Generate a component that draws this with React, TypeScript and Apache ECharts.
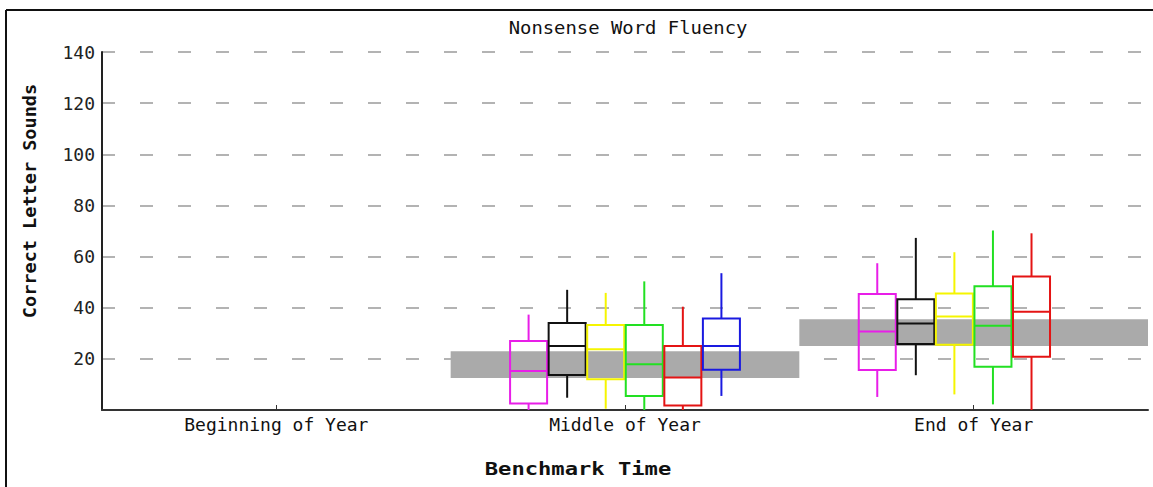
import React, { useEffect, useRef } from 'react';
import * as echarts from 'echarts';

const categories = ['Beginning of Year', 'Middle of Year', 'End of Year'];
const yTicks = { min: 0, max: 140, interval: 20 };

// [min, q1, median, q3, max] per category (null = no data)
const magentaBox = [null, [0, 2.5, 15.3, 27, 37.3], [5.1, 15.6, 30.7, 45.4, 57.4]];
const blackBox = [null, [4.8, 13.7, 25, 34, 47], [13.6, 25.8, 33.8, 43.3, 67.3]];
const yellowBox = [null, [0.5, 12, 23.8, 33.2, 45.8], [6.1, 25.5, 36.6, 45.6, 61.7]];
const greenBox = [null, [0, 5.5, 17.9, 33.2, 50.3], [2.2, 16.9, 32.9, 48.4, 70.2]];
const redBox = [null, [0, 1.8, 12.7, 25, 40.4], [0, 20.8, 38.4, 52.2, 69.1]];
const blueBox = [null, [5.5, 15.7, 25, 35.8, 53.5], null];

const benchmarkLow = [null, 12.5, 25];
const benchmarkHigh = [null, 23, 35.5];

const boxSeries = [
  { data: magentaBox, color: '#e81ee8' },
  { data: blackBox, color: '#111111' },
  { data: yellowBox, color: '#f5f500' },
  { data: greenBox, color: '#22e022' },
  { data: redBox, color: '#e41414' },
  { data: blueBox, color: '#1a1ae0' },
];

const MONO = '"DejaVu Sans Mono", "Liberation Mono", monospace';
const SLOT_RATIO = 0.1106;

export default function App() {
  const ref = useRef<HTMLDivElement>(null);
  useEffect(() => {
    if (!ref.current) return;
    const chart = echarts.init(ref.current, null, { renderer: 'svg' });
    const n = boxSeries.length;

    const bandData = categories
      .map((_, i) => (benchmarkLow[i] != null ? [i, benchmarkLow[i], benchmarkHigh[i]] : null))
      .filter(Boolean);

    const series: any[] = [
      {
        type: 'custom',
        name: 'benchmark',
        z: 1,
        silent: true,
        encode: { x: 0, y: [1, 2] },
        data: bandData,
        renderItem: (params: any, api: any) => {
          const cat = api.value(0);
          const lo = api.coord([cat, api.value(1)]);
          const hi = api.coord([cat, api.value(2)]);
          const bw = api.size([1, 0])[0];
          return {
            type: 'rect',
            shape: { x: lo[0] - bw / 2, y: hi[1], width: bw, height: lo[1] - hi[1] },
            style: { fill: '#aaaaaa' },
          };
        },
      },
    ];

    boxSeries.forEach((bs, si) => {
      const data = bs.data
        .map((v, i) => (v ? [i, ...v] : null))
        .filter(Boolean);
      series.push({
        type: 'custom',
        z: 2 + si,
        silent: true,
        encode: { x: 0, y: [1, 2, 3, 4, 5] },
        data,
        renderItem: (params: any, api: any) => {
          const cat = api.value(0);
          const bw = api.size([1, 0])[0];
          const slot = bw * SLOT_RATIO;
          const cx = api.coord([cat, 0])[0] + (si - (n - 1) / 2) * slot;
          const w = slot * 0.96;
          const y = (k: number) => api.coord([cat, api.value(k)])[1];
          const yMin = y(1), yQ1 = y(2), yMed = y(3), yQ3 = y(4), yMax = y(5);
          const st = { stroke: bs.color, lineWidth: 2, fill: null };
          return {
            type: 'group',
            children: [
              { type: 'line', shape: { x1: cx, y1: yMax, x2: cx, y2: yQ3 }, style: st },
              { type: 'line', shape: { x1: cx, y1: yQ1, x2: cx, y2: yMin }, style: st },
              {
                type: 'rect',
                shape: { x: cx - w / 2, y: yQ3, width: w, height: yQ1 - yQ3 },
                style: { stroke: bs.color, lineWidth: 2, fill: 'rgba(0,0,0,0)' },
              },
              { type: 'line', shape: { x1: cx - w / 2, y1: yMed, x2: cx + w / 2, y2: yMed }, style: st },
            ],
          };
        },
      });
    });

    chart.setOption({
      animation: false,
      backgroundColor: '#ffffff',
      grid: { left: 102, right: 5, top: 52, bottom: 77, containLabel: false },
      xAxis: {
        type: 'category',
        data: categories,
        boundaryGap: true,
        axisLine: { show: true, lineStyle: { color: '#333', width: 2 } },
        axisTick: { show: true, inside: true, length: 5, alignWithLabel: true, lineStyle: { color: '#333', width: 1 } },
        axisLabel: { color: '#111', fontFamily: MONO, fontSize: 18, margin: 5 },
        splitLine: { show: false },
      },
      yAxis: {
        type: 'value',
        min: yTicks.min,
        max: yTicks.max,
        interval: yTicks.interval,
        axisLine: { show: true, lineStyle: { color: '#222', width: 2 } },
        axisTick: { show: false },
        axisLabel: {
          color: '#222',
          fontFamily: MONO,
          fontSize: 18,
          margin: 7,
          formatter: (v: number) => (v === 0 ? '' : String(v)),
        },
        splitLine: { show: true, lineStyle: { color: '#9a9a9a', width: 1.5, type: [13, 25] } },
      },
      graphic: [
        { type: 'line', shape: { x1: 6, y1: 10, x2: 1153, y2: 10 }, style: { stroke: '#111', lineWidth: 2 } },
        { type: 'line', shape: { x1: 6, y1: 10, x2: 6, y2: 487 }, style: { stroke: '#111', lineWidth: 2 } },
        {
          type: 'text',
          x: 628,
          y: 28,
          scaleX: 1.05,
          style: { text: 'Nonsense Word Fluency', fontFamily: MONO, fontSize: 18, fill: '#111', textAlign: 'center', textVerticalAlign: 'middle' },
        },
        {
          type: 'text',
          x: 30,
          y: 201,
          rotation: Math.PI / 2,
          scaleX: 1.03,
          style: { text: 'Correct Letter Sounds', fontFamily: MONO, fontSize: 18, fontWeight: 'bold', fill: '#111', textAlign: 'center', textVerticalAlign: 'middle' },
        },
        {
          type: 'text',
          x: 578,
          y: 469,
          scaleX: 1.23,
          style: { text: 'Benchmark Time', fontFamily: MONO, fontSize: 18, fontWeight: 'bold', fill: '#111', textAlign: 'center', textVerticalAlign: 'middle' },
        },
      ],
      series,
    });
    return () => chart.dispose();
  }, []);
  return <div ref={ref} style={{ position: 'fixed', left: 0, top: 0, width: 1153, height: 487 }} />;
}
